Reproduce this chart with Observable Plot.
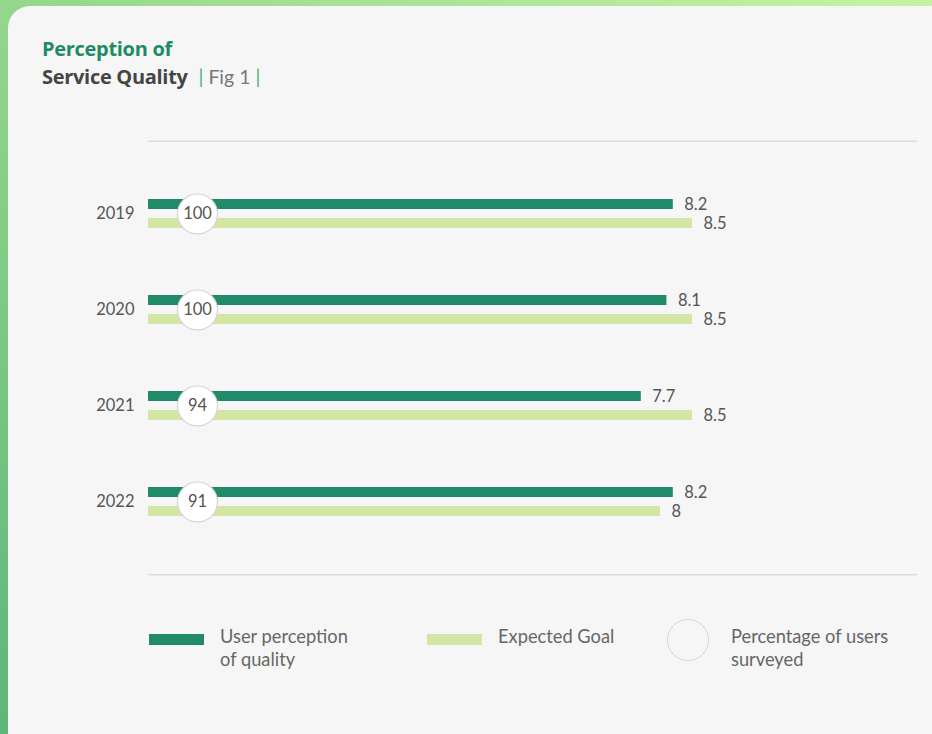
<!DOCTYPE html>
<html>
<head>
<meta charset="utf-8">
<script src="https://cdn.jsdelivr.net/npm/d3@7"></script>
<script src="https://cdn.jsdelivr.net/npm/@observablehq/plot@0.6"></script>
<style>
  html, body { margin: 0; padding: 0; width: 932px; height: 734px; overflow: hidden; }
  body { background: linear-gradient(to top right, #5db679 0%, #8fd48a 45%, #c6f3a3 100%); position: relative; font-family: Lato, "Open Sans", sans-serif; }
  #card { position: absolute; left: 8px; top: 6px; width: 960px; height: 760px; background: #f6f6f6; border-radius: 22px; }
  .abs { position: absolute; }
  #t1 { left: 42px; top: 35px; font-family: "Open Sans", sans-serif; font-size: 20px; font-weight: 700; color: #1f8a66; letter-spacing: -0.3px; }
  #t2 { left: 42px; top: 63px; font-family: "Open Sans", sans-serif; font-size: 20px; font-weight: 700; color: #454545; white-space: nowrap; letter-spacing: -0.3px; }
  #t2 .fig { font-family: Lato, sans-serif; font-weight: 400; color: #777; font-size: 19.5px; margin-left: 6px; letter-spacing: 0; }
  #t2 .bar { color: #3fb07a; font-weight: 400; }
  #chart { left: 0; top: 120px; }
  .sw { position: absolute; width: 55px; height: 11px; }
  .lt { position: absolute; font-size: 18.3px; line-height: 23px; color: #666; }
  #lc { position: absolute; left: 667px; top: 619px; width: 40px; height: 40px; border: 1.5px solid #d6d6d6; border-radius: 50%; }
</style>
</head>
<body>
<div id="card"></div>
<div id="t1" class="abs">Perception of</div>
<div id="t2" class="abs">Service Quality <span class="fig"><span class="bar">|</span> Fig 1 <span class="bar">|</span></span></div>
<div id="chart" class="abs"></div>
<div class="sw" style="left:149px;top:634px;background:#218a6b"></div>
<div class="lt" style="left:220px;top:625px">User perception<br>of quality</div>
<div class="sw" style="left:427px;top:634px;background:#d3e6a5"></div>
<div class="lt" style="left:498px;top:625px">Expected Goal</div>
<div id="lc"></div>
<div class="lt" style="left:731px;top:625px">Percentage of users<br>surveyed</div>
<script>
const years = ["2019", "2020", "2021", "2022"];
const series = ["User perception of quality", "Expected Goal"];
const perception = [8.2, 8.1, 7.7, 8.2];
const goal = [8.5, 8.5, 8.5, 8];
const surveyed = [100, 100, 94, 91];
const colors = ["#218a6b", "#d3e6a5"];

const rows = [];
years.forEach((year, i) => {
  rows.push({year, series: series[0], value: perception[i]});
  rows.push({year, series: series[1], value: goal[i]});
});
const surveyRows = years.map((year, i) => ({year, pct: surveyed[i]}));

const ruleOut = -49.3;
const chart = Plot.plot({
  width: 932,
  height: 480,
  marginLeft: 148,
  marginRight: 16,
  marginTop: 20,
  marginBottom: 24,
  style: {fontFamily: "Lato, 'Open Sans', sans-serif", fontSize: "16.5px", color: "#555", background: "transparent"},
  x: {domain: [0, 12], axis: null},
  y: {domain: series, axis: null, paddingInner: 0.45, paddingOuter: 0.41},
  fy: {domain: years, paddingInner: 0.51, paddingOuter: 0.51, axis: "left", label: null, tickSize: 0, tickPadding: 14},
  color: {domain: series, range: colors},
  marks: [
    Plot.frame({facet: "super", anchor: "top", insetTop: ruleOut, stroke: "#cfcfcf"}),
    Plot.frame({facet: "super", anchor: "bottom", insetBottom: ruleOut, stroke: "#cfcfcf"}),
    Plot.barX(rows, {x: "value", y: "series", fy: "year", fill: "series"}),
    Plot.text(rows, {x: "value", y: "series", fy: "year", text: d => String(d.value), textAnchor: "start", dx: 11, fill: "#555"}),
    Plot.dot(surveyRows, {fy: "year", frameAnchor: "left", dx: 49, r: 20, fill: "#fff", stroke: "#d4d4d4", strokeWidth: 1.2}),
    Plot.text(surveyRows, {fy: "year", frameAnchor: "left", dx: 49, textAnchor: "middle", text: d => String(d.pct), fill: "#555"})
  ]
});
document.getElementById("chart").appendChild(chart);
</script>
</body>
</html>
